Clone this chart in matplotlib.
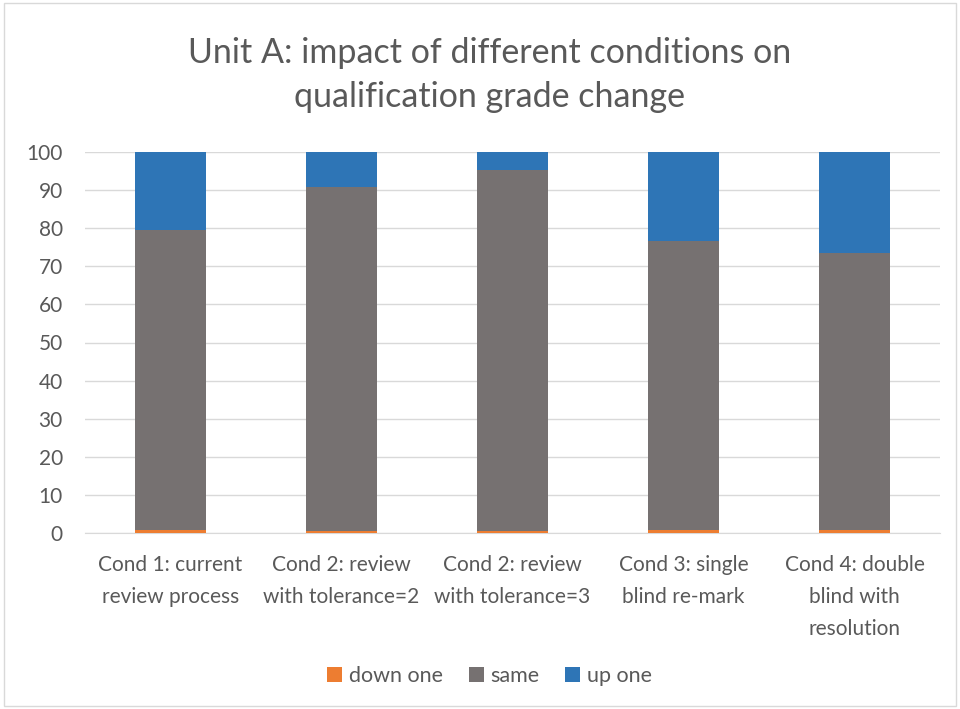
import numpy as np
import matplotlib.pyplot as plt
from matplotlib.patches import Rectangle

categories = ["Cond 1: current\nreview process",
              "Cond 2: review\nwith tolerance=2",
              "Cond 2: review\nwith tolerance=3",
              "Cond 3: single\nblind re-mark",
              "Cond 4: double\nblind with\nresolution"]
down_one = [0.9, 0.5, 0.5, 0.9, 0.9]
same = [78.6, 90.4, 94.8, 75.8, 72.5]
up_one = [20.5, 9.1, 4.7, 23.3, 26.6]

plt.rcParams['font.family'] = ['Lato', 'DejaVu Sans']
text_color = '#595959'

fig = plt.figure(figsize=(9.6, 7.09), dpi=100)
fig.add_artist(Rectangle((0.004, 0.004), 0.992, 0.992, transform=fig.transFigure,
                         fill=False, edgecolor='#d9d9d9', lw=1))
ax = fig.add_axes([85 / 960, 1 - 533 / 709, 855 / 960, 381 / 709])

x = np.arange(len(categories))
w = 0.41
down = np.array(down_one)
mid = np.array(same)
up = np.array(up_one)
ax.bar(x, down, w, color='#ed7d31', label='down one', zorder=3)
ax.bar(x, mid, w, bottom=down, color='#767171', label='same', zorder=3)
ax.bar(x, up, w, bottom=down + mid, color='#2e75b6', label='up one', zorder=3)

ax.set_xlim(-0.5, len(categories) - 0.5)
ax.set_ylim(0, 100)
ax.set_yticks(np.arange(0, 101, 10))
ax.yaxis.grid(True, color='#d9d9d9', lw=1, zorder=0)
ax.set_xticks(x)
ax.set_xticklabels(categories, fontsize=15, color=text_color, linespacing=1.75)
ax.tick_params(axis='y', labelsize=15, colors=text_color, length=0, pad=16)
ax.tick_params(axis='x', length=0, pad=16)
for s in ['top', 'right', 'left']:
    ax.spines[s].set_visible(False)
ax.spines['bottom'].set_color('#d9d9d9')

fig.text(0.51, 0.894, "Unit A: impact of different conditions on\nqualification grade change",
         ha='center', va='center', fontsize=24.5, color=text_color, linespacing=1.45)

fig.legend(loc='center', bbox_to_anchor=(0.51, 0.046), ncol=3, frameon=False,
           fontsize=15.5, labelcolor=text_color, handlelength=0.7, handleheight=0.7,
           columnspacing=1.2, handletextpad=0.3)

fig.savefig('out.png', dpi=100)
